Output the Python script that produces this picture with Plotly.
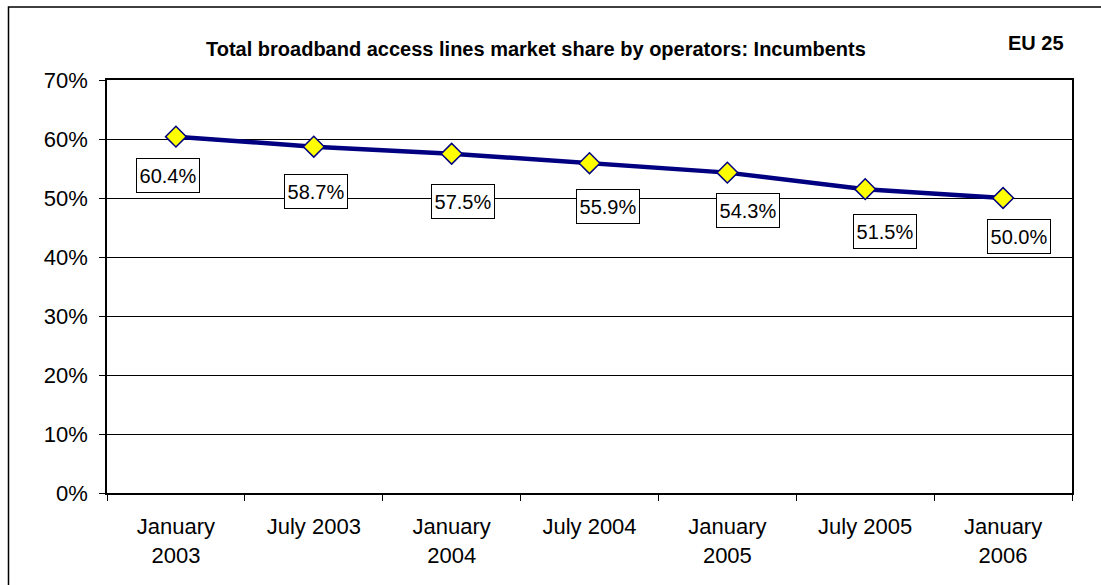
import plotly.graph_objects as go

categories = ["January<br>2003", "July 2003", "January<br>2004", "July 2004",
              "January<br>2005", "July 2005", "January<br>2006"]
incumbent_share = [60.4, 58.7, 57.5, 55.9, 54.3, 51.5, 50.0]
y_ticks = [0, 10, 20, 30, 40, 50, 60, 70]
y_tick_labels = ["0%", "10%", "20%", "30%", "40%", "50%", "60%", "70%"]
title_text = "Total broadband access lines market share by operators: Incumbents"
region_text = "EU 25"

# label box offsets (pixels) relative to each point
label_dx = [-8, 2, 11, 18, 21, 20, 16]
label_dy = [39, 45, 48, 43, 38, 42, 38]

FONT = "Liberation Sans, Arial, sans-serif"

fig = go.Figure()
fig.add_trace(go.Scatter(
    x=categories, y=incumbent_share, mode="lines+markers",
    line=dict(color="#000080", width=4.5),
    marker=dict(symbol="diamond", size=16, color="#FFFF00",
                line=dict(color="#000080", width=1.5)),
    showlegend=False, hoverinfo="skip"))

for c, v, dx, dy in zip(categories, incumbent_share, label_dx, label_dy):
    fig.add_annotation(x=c, y=v, text=f"{v:.1f}%", showarrow=False,
                       xshift=dx, yshift=-dy, font=dict(family=FONT, size=20, color="black"),
                       width=60, height=31, align="center", valign="middle",
                       bgcolor="white", bordercolor="black", borderwidth=1, borderpad=1)

L, R, T, B = 107, 1072, 80, 493
W, H = 1101, 585
pw, ph = R - L, B - T

def px(x):
    return (x - L) / pw

def py(y):
    return (B - y) / ph

fig.add_annotation(x=px(536), y=py(49), xref="paper", yref="paper", text=f"<b>{title_text}</b>",
                   showarrow=False, xanchor="center", yanchor="middle",
                   font=dict(family=FONT, size=20, color="black"))
fig.add_annotation(x=px(1036), y=py(43), xref="paper", yref="paper", text=f"<b>{region_text}</b>",
                   showarrow=False, xanchor="center", yanchor="middle",
                   font=dict(family=FONT, size=20, color="black"))

# outer chart border
fig.add_shape(type="rect", xref="paper", yref="paper",
              x0=px(8.5), y0=py(600), x1=px(1120), y1=py(7),
              line=dict(color="black", width=1.5), fillcolor="rgba(0,0,0,0)", layer="below")

fig.update_layout(
    width=W, height=H,
    margin=dict(l=L, r=W - R, t=T, b=H - B, pad=0),
    paper_bgcolor="white", plot_bgcolor="white",
    font=dict(family=FONT, size=22, color="black"),
)
fig.update_xaxes(type="category", range=[-0.5, len(categories) - 0.5],
                 tickson="boundaries", ticks="outside", ticklen=6,
                 tickcolor="black", showgrid=False, showline=True, linecolor="black",
                 linewidth=1.5, mirror=True, ticklabelstandoff=13,
                 tickfont=dict(family=FONT, size=22, color="black"))
fig.update_yaxes(range=[0, 70], tickvals=y_ticks, ticktext=y_tick_labels, ticks="outside",
                 ticklen=6, tickcolor="black", showgrid=True, gridcolor="black", gridwidth=1,
                 showline=True, linecolor="black", linewidth=1.5, mirror=True,
                 zeroline=False, ticklabelstandoff=7,
                 tickfont=dict(family=FONT, size=22, color="black"))

fig.write_html("out.html", config={"displayModeBar": False},
               post_script="document.body.style.margin='0';document.body.style.overflow='hidden';")
